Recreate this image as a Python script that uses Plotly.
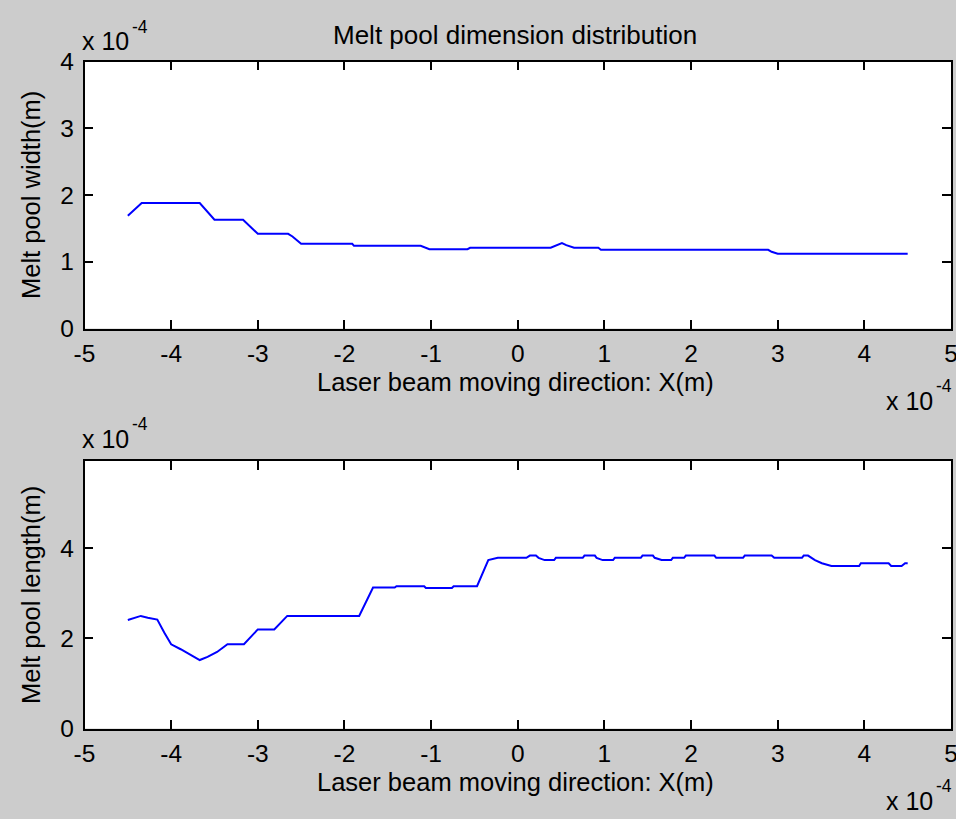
import plotly.graph_objects as go

# ---- data (units of 1e-4 m) ----
x_width = [-4.50, -4.43, -4.34, -3.67, -3.50, -3.17, -3.00, -2.65, -2.60, -2.50,
           -1.91, -1.89, -1.12, -1.02, -0.58, -0.55, 0.38, 0.51, 0.56, 0.65,
           0.93, 0.96, 2.89, 2.93, 3.00, 4.50]
y_width = [1.69, 1.77, 1.88, 1.88, 1.63, 1.63, 1.42, 1.42, 1.38, 1.27,
           1.27, 1.24, 1.24, 1.19, 1.19, 1.21, 1.21, 1.28, 1.25, 1.21,
           1.21, 1.18, 1.18, 1.15, 1.12, 1.12]

x_length = [-4.50, -4.45, -4.35, -4.27, -4.16, -4.08, -4.00, -3.89, -3.77, -3.67,
            -3.58, -3.47, -3.35, -3.16, -3.00, -2.81, -2.66, -1.83, -1.67, -1.42,
            -1.40, -1.08, -1.06, -0.76, -0.74, -0.47, -0.34, -0.23, 0.10, 0.14,
            0.21, 0.24, 0.31, 0.42, 0.44, 0.75, 0.77, 0.89, 0.91, 0.98,
            1.10, 1.12, 1.42, 1.44, 1.56, 1.58, 1.66, 1.77, 1.79, 1.92,
            1.94, 2.27, 2.29, 2.60, 2.62, 2.93, 2.96, 3.28, 3.30, 3.35,
            3.43, 3.51, 3.62, 3.94, 3.96, 4.28, 4.31, 4.43, 4.47, 4.50]
y_length = [2.41, 2.44, 2.50, 2.46, 2.42, 2.13, 1.87, 1.76, 1.62, 1.52,
            1.59, 1.70, 1.87, 1.87, 2.20, 2.20, 2.50, 2.50, 3.13, 3.13,
            3.16, 3.16, 3.12, 3.12, 3.16, 3.16, 3.74, 3.79, 3.79, 3.84,
            3.84, 3.79, 3.74, 3.74, 3.79, 3.79, 3.84, 3.84, 3.79, 3.74,
            3.74, 3.79, 3.79, 3.84, 3.84, 3.79, 3.74, 3.74, 3.79, 3.79,
            3.84, 3.84, 3.79, 3.79, 3.84, 3.84, 3.79, 3.79, 3.84, 3.84,
            3.74, 3.67, 3.61, 3.61, 3.67, 3.67, 3.61, 3.61, 3.67, 3.67]

x_ticks = [-5, -4, -3, -2, -1, 0, 1, 2, 3, 4, 5]
x_ticklabels = ["-5", "-4", "-3", "-2", "-1", "0", "1", "2", "3", "4", "5"]
y_ticks_width = [0, 1, 2, 3, 4]
y_ticks_length = [0, 2, 4]

title_text = "Melt pool dimension distribution"
x_title = "Laser beam moving direction: X(m)"
y_title_width = "Melt pool width(m)"
y_title_length = "Melt pool length(m)"
exp_base = "x 10"
exp_power = "-4"

W, H = 956, 819
def px(x):
    return x / W
def py(y):
    return 1 - y / H

FAM = "Liberation Sans, Arial, sans-serif"
TICKFONT = dict(family=FAM, size=24.5, color="black")
TITLEFONT = dict(family=FAM, size=26, color="black")
AXTFONT = dict(family=FAM, size=25.5, color="black")
EXPFONT = dict(family=FAM, size=25, color="black")
SUPFONT = dict(family=FAM, size=17.5, color="black")

fig = go.Figure()
fig.add_trace(go.Scatter(x=x_width, y=y_width, mode="lines",
                         line=dict(color="#0000ff", width=2),
                         xaxis="x", yaxis="y", showlegend=False))
fig.add_trace(go.Scatter(x=x_length, y=y_length, mode="lines",
                         line=dict(color="#0000ff", width=2),
                         xaxis="x2", yaxis="y2", showlegend=False))

axis_common = dict(showline=True, linecolor="black", linewidth=1.5, mirror="allticks",
                   ticks="inside", ticklen=9, tickwidth=1.5, tickcolor="black",
                   showgrid=False, zeroline=False, tickfont=TICKFONT,
                   automargin=False)

xdom = [px(84.5), px(951)]
fig.update_layout(
    template="none",
    width=W, height=H,
    margin=dict(l=0, r=0, t=0, b=0, autoexpand=False),
    paper_bgcolor="#cccccc", plot_bgcolor="white",
    font=TICKFONT,
    xaxis=dict(domain=xdom, range=[-5, 5], tickvals=x_ticks, ticktext=x_ticklabels,
               anchor="y", ticklabelstandoff=2, ticklabeloverflow="allow", **axis_common),
    yaxis=dict(domain=[py(328.5), py(61.7)], range=[0, 4], tickvals=y_ticks_width,
               anchor="x", ticklabelstandoff=4, **axis_common),
    xaxis2=dict(domain=xdom, range=[-5, 5], tickvals=x_ticks, ticktext=x_ticklabels,
                anchor="y2", ticklabelstandoff=2, ticklabeloverflow="allow", **axis_common),
    yaxis2=dict(domain=[py(728.5), py(461)], range=[0, 5.94], tickvals=y_ticks_length,
                anchor="x2", ticklabelstandoff=4, **axis_common),
)

ann = [
    dict(text=title_text, x=px(515), y=py(35), xanchor="center", yanchor="middle", font=TITLEFONT),
    dict(text=x_title, x=px(515), y=py(382), xanchor="center", yanchor="middle", font=AXTFONT),
    dict(text=x_title, x=px(515), y=py(782), xanchor="center", yanchor="middle", font=AXTFONT),
    dict(text=y_title_width, x=px(31), y=py(195), xanchor="center", yanchor="middle",
         textangle=-90, font=AXTFONT),
    dict(text=y_title_length, x=px(31), y=py(595), xanchor="center", yanchor="middle",
         textangle=-90, font=AXTFONT),
]
# exponent labels: (base x-left, base y-center, power y-center)
for bx, by, sy in [(80, 41, 27), (80, 439, 424), (884, 401, 386), (884, 801, 786)]:
    ann.append(dict(text=exp_base, x=px(bx), y=py(by), xanchor="left", yanchor="middle",
                    font=EXPFONT))
    ann.append(dict(text=exp_power, x=px(bx + 50), y=py(sy), xanchor="left", yanchor="middle",
                    font=SUPFONT))
for a in ann:
    a.update(xref="paper", yref="paper", showarrow=False)
fig.update_layout(annotations=ann)

fig.write_html("out.html")
